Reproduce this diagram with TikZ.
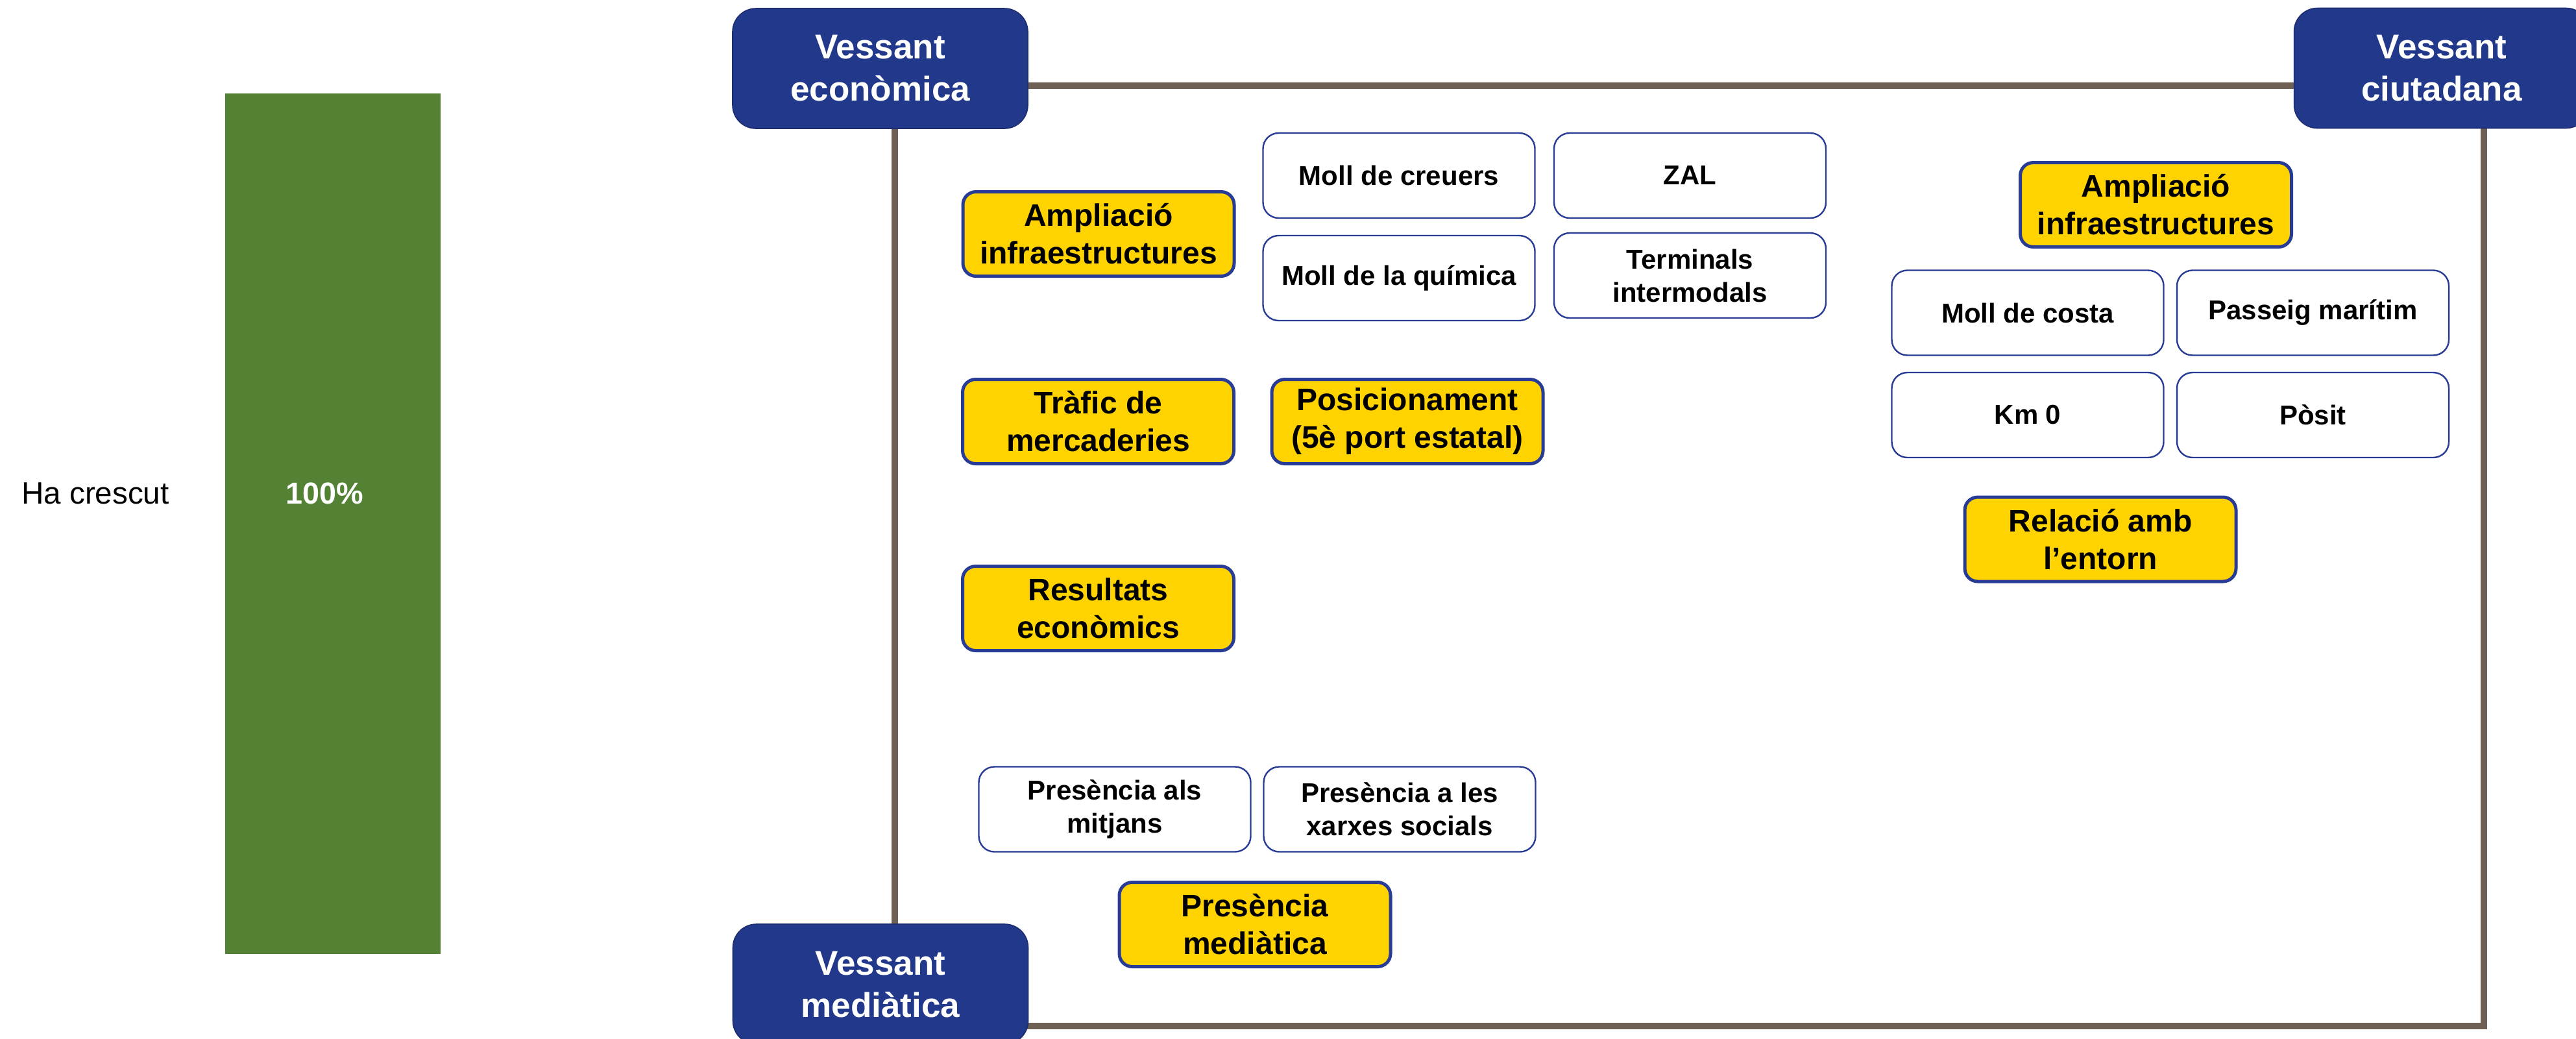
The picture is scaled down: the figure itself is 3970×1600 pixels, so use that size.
\documentclass[tikz,border=0pt]{standalone}
\usepackage{fontspec}
\setmainfont{Liberation Sans}
\definecolor{navy}{RGB}{34,56,138}
\definecolor{navyedge}{RGB}{28,44,110}
\definecolor{boxblue}{RGB}{40,60,150}
\definecolor{gold}{RGB}{255,211,0}
\definecolor{frameC}{RGB}{110,96,84}
\definecolor{barG}{RGB}{84,130,53}
\begin{document}
\begin{tikzpicture}[x=0.25pt,y=-0.25pt,
  vessant/.style={rectangle, rounded corners=9pt, fill=navy, draw=navyedge, line width=0.4pt, text=white,
    font=\bfseries\fontsize{13.25pt}{16.25pt}\selectfont, align=center,
    minimum width=113.75pt, minimum height=46.25pt, inner sep=0pt},
  ybox/.style={rectangle, rounded corners=5pt, fill=gold, draw=boxblue, line width=1.25pt,
    font=\bfseries\fontsize{12pt}{14.5pt}\selectfont, align=center,
    minimum width=104.5pt, minimum height=32.5pt, inner sep=0pt},
  wbox/.style={rectangle, rounded corners=6pt, fill=white, draw=boxblue, line width=0.6pt,
    font=\bfseries\fontsize{10.5pt}{12.75pt}\selectfont, align=center,
    minimum width=104.75pt, minimum height=32.75pt, inner sep=0pt},
  frameline/.style={draw=frameC, line width=2.6pt},
  lbl/.style={inner sep=0pt, font=\fontsize{11.9pt}{14pt}\selectfont}
]
\useasboundingbox (0,0) rectangle (3970,1600);

% left bar
\node[lbl] (ha) at (147,760) {Ha crescut};
\node[fill=barG, minimum width=83pt, minimum height=331.5pt, inner sep=0pt] (bar) at (513,807) {};
\node[lbl, text=white, font=\bfseries\fontsize{11.7pt}{14pt}\selectfont] (pct) at (500,760) {100\%};

% frame
\coordinate (tl) at (1379,132);
\coordinate (br) at (3828,1581);
\draw[frameline] (tl) rectangle (br);

% corner labels
\node[vessant] (eco) at (1356.5,105.5) {Vessant\\econòmica};
\node[vessant] (ciu) at (3763,105) {Vessant\\ciutadana};
\node[vessant] (med) at (1357,1516.5) {Vessant\\mediàtica};

% economic side
\node[ybox] (ampE) at (1693,360.5) {Ampliació\\infraestructures};
\node[wbox] (creuers) at (2156,270.5) {Moll de creuers};
\node[wbox] (zal) at (2604.5,270.5) {ZAL};
\node[wbox] (quimica) at (2156,428.5) {Moll de la química};
\node[wbox] (terminals) at (2604.5,424.5) {Terminals\\intermodals};
\node[ybox] (trafic) at (1692.5,649.5) {Tràfic de\\mercaderies};
\node[ybox] (posic) at (2169,649.5) {Posicionament\\(5è port estatal)};
\node[ybox] (result) at (1692.5,937.5) {Resultats\\econòmics};

% media side
\node[wbox] (mitjans) at (1718,1247) {Presència als\\mitjans};
\node[wbox] (xarxes) at (2157,1247) {Presència a les\\xarxes socials};
\node[ybox] (presM) at (1934,1424.5) {Presència\\mediàtica};

% citizen side
\node[ybox] (ampC) at (3322.5,315.5) {Ampliació\\infraestructures};
\node[wbox] (costa) at (3125,482) {Moll de costa};
\node[wbox] (passeig) at (3564.5,482) {Passeig marítim};
\node[wbox] (km0) at (3125,639.5) {Km 0};
\node[wbox] (posit) at (3564.5,639.5) {Pòsit};
\node[ybox] (relacio) at (3237,831) {Relació amb\\l’entorn};
\end{tikzpicture}
\end{document}
